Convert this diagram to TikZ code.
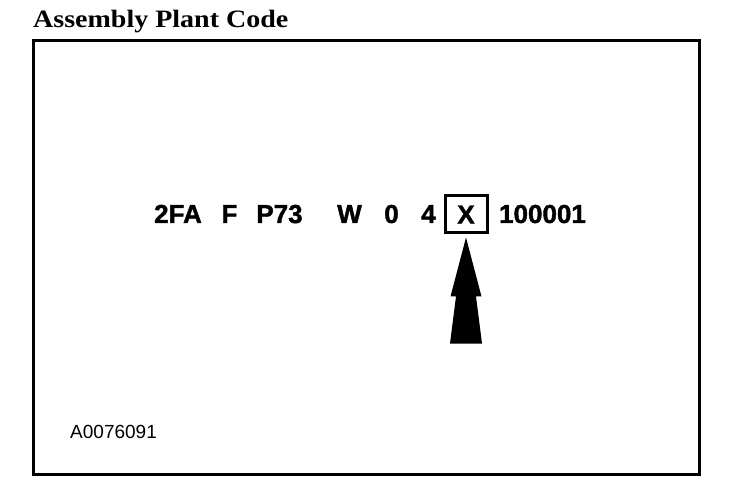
\documentclass[tikz,border=0pt]{standalone}
\usepackage{fontspec}
\setmainfont{Liberation Serif}
\setsansfont{Liberation Sans}
\newfontfamily\codefont[FakeBold=1.5]{Liberation Sans Bold}
\usetikzlibrary{positioning}

\begin{document}
\begin{tikzpicture}[x=1pt,y=-1pt,
    code part/.style={anchor=base,inner sep=0pt,font=\codefont\fontsize{26}{26}\selectfont},
    mark box/.style={draw,line width=3pt,inner sep=0pt,minimum width=42pt,minimum height=37pt,
      font=\codefont\fontsize{26}{26}\selectfont}]
    \useasboundingbox (0,0) rectangle (736,494);
    \node[anchor=base west,inner sep=0pt,font=\rmfamily\bfseries\fontsize{25}{25}\selectfont] (title) at (33,28) {\scalebox{1.12}[1]{Assembly Plant Code}};
    \draw[line width=3pt] (33,41) rectangle (699,474);
    \node[code part] (wmi) at (178,223) {2FA};
    \node[code part] (restr) at (229.5,223) {F};
    \node[code part] (line) at (279.5,223) {P73};
    \node[code part] (engine) at (349.5,223) {W};
    \node[code part] (check) at (391.5,223) {0};
    \node[code part] (year) at (428.5,223) {4};
    \node[mark box] (plant) at (466,214.5) {X};
    \node[code part] (serial) at (542.5,223) {100001};
    \fill[shift={(plant.south)}] (0,3) -- (-15.5,62) -- (-10,62) -- (-16,109)
      -- (16,109) -- (10,62) -- (15.5,62) -- cycle;
    \node[anchor=base west,inner sep=0pt,font=\sffamily\fontsize{19}{19}\selectfont] (fig) at (70,438) {A0076091};
\end{tikzpicture}
\end{document}
